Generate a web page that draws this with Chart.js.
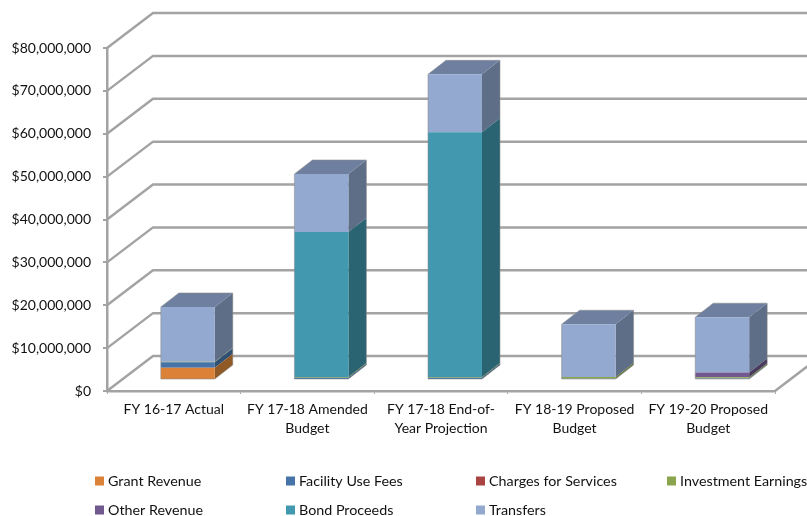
<!DOCTYPE html>
<html>
<head>
<meta charset="utf-8">
<style>
  html, body { margin: 0; padding: 0; background: #fff; }
  #wrap { position: relative; width: 807px; height: 516px; overflow: hidden; }
</style>
<script src="https://cdn.jsdelivr.net/npm/chart.js@4/dist/chart.umd.js"></script>
</head>
<body>
<div id="wrap"><canvas id="chart"></canvas></div>
<script>
// Budget categories along the horizontal axis
const categories = [
  'FY 16-17 Actual',
  ['FY 17-18 Amended', 'Budget'],
  ['FY 17-18 End-of-', 'Year Projection'],
  ['FY 18-19 Proposed', 'Budget'],
  ['FY 19-20 Proposed', 'Budget']
];

// Revenue sources, in dollars, bottom of the stack first
const grantRevenue       = [2870000, 0, 0, 0, 0];
const facilityUseFees    = [1250000, 500000, 500000, 300000, 350000];
const chargesForServices = [0, 0, 0, 0, 0];
const investmentEarnings = [150000, 200000, 200000, 400000, 300000];
const otherRevenue       = [0, 0, 0, 0, 1100000];
const bondProceeds       = [0, 33800000, 57100000, 0, 0];
const transfers          = [12760000, 13550000, 13500000, 12300000, 12900000];

const seriesNames = ['Grant Revenue', 'Facility Use Fees', 'Charges for Services',
  'Investment Earnings', 'Other Revenue', 'Bond Proceeds', 'Transfers'];
const seriesValues = [grantRevenue, facilityUseFees, chargesForServices,
  investmentEarnings, otherRevenue, bondProceeds, transfers];

// Front, side and top shades for each series
const frontColors = ['#DB8138', '#4674A8', '#A94442', '#8BA54E', '#71588F', '#4198AF', '#93A9CF'];
const sideColors  = ['#8F5A25', '#2F4F75', '#70302E', '#5F7235', '#4A3A5F', '#2A6472', '#5E6E86'];
const topColors   = ['#A8662C', '#3A5F8A', '#843936', '#6F853F', '#59467A', '#33788A', '#6E7F9F'];

const FONT = 'Lato, Carlito, sans-serif';
const GRID = '#a3a3a3';

// Oblique projection: wall depth and where the columns sit inside it
const WALL_DX = 46, WALL_DY = 35;
const BAR_SHIFT_X = 14, BAR_SHIFT_Y = 11;
const BAR_DX = 18, BAR_DY = 14;

const backdrop = {
  id: 'backdrop',
  beforeDatasetsDraw(chart) {
    const { ctx, chartArea: a, scales: { y } } = chart;
    ctx.save();
    ctx.strokeStyle = GRID;
    ctx.lineWidth = 2.5;
    ctx.lineJoin = 'round';
    y.ticks.forEach(t => {
      const py = y.getPixelForValue(t.value);
      ctx.beginPath();
      ctx.moveTo(a.left, py);
      ctx.lineTo(a.left + WALL_DX, py - WALL_DY);
      ctx.lineTo(chart.width + 10, py - WALL_DY);
      ctx.stroke();
    });
    // right edge of the floor
    ctx.beginPath();
    ctx.moveTo(a.right, a.bottom);
    ctx.lineTo(a.right + WALL_DX, a.bottom - WALL_DY);
    ctx.stroke();
    ctx.restore();
  }
};

const columns3d = {
  id: 'columns3d',
  beforeDatasetDraw(chart, args) {
    const { ctx } = chart;
    ctx.save();
    ctx.translate(BAR_SHIFT_X, -BAR_SHIFT_Y);
    const i = args.index;
    args.meta.data.forEach((bar, c) => {
      if (!seriesValues[i][c]) return;
      const right = bar.x + bar.width / 2;
      const left = bar.x - bar.width / 2;
      ctx.fillStyle = sideColors[i];
      ctx.beginPath();
      ctx.moveTo(right, bar.y);
      ctx.lineTo(right + BAR_DX, bar.y - BAR_DY);
      ctx.lineTo(right + BAR_DX, bar.base - BAR_DY);
      ctx.lineTo(right, bar.base);
      ctx.closePath();
      ctx.fill();
      // only the uppermost segment of a column shows its lid
      const isTop = seriesValues.slice(i + 1).every(s => !s[c]);
      if (isTop) {
        ctx.fillStyle = topColors[i];
        ctx.beginPath();
        ctx.moveTo(left, bar.y);
        ctx.lineTo(left + BAR_DX, bar.y - BAR_DY);
        ctx.lineTo(right + BAR_DX, bar.y - BAR_DY);
        ctx.lineTo(right, bar.y);
        ctx.closePath();
        ctx.fill();
      }
    });
  },
  afterDatasetDraw(chart) {
    chart.ctx.restore();
  },
  // faint outline around each whole column
  afterDatasetsDraw(chart) {
    const { ctx } = chart;
    ctx.save();
    ctx.translate(BAR_SHIFT_X, -BAR_SHIFT_Y);
    ctx.strokeStyle = 'rgba(140,140,140,0.55)';
    ctx.lineWidth = 1;
    ctx.lineJoin = 'round';
    categories.forEach((_, c) => {
      const bars = chart.data.datasets
        .map((d, i) => chart.getDatasetMeta(i).data[c])
        .filter((b, i) => seriesValues[i][c]);
      const top = Math.min(...bars.map(b => b.y));
      const base = Math.max(...bars.map(b => b.base));
      const left = bars[0].x - bars[0].width / 2;
      const right = bars[0].x + bars[0].width / 2;
      ctx.beginPath();
      ctx.moveTo(left, base);
      ctx.lineTo(left, top);
      ctx.lineTo(left + BAR_DX, top - BAR_DY);
      ctx.lineTo(right + BAR_DX, top - BAR_DY);
      ctx.lineTo(right + BAR_DX, base - BAR_DY);
      ctx.lineTo(right, base);
      ctx.closePath();
      ctx.stroke();
    });
    ctx.restore();
  }
};

// Legend laid out on a fixed grid of four columns
const gridLegend = {
  id: 'gridLegend',
  afterDraw(chart) {
    const { ctx } = chart;
    const cols = [95, 286, 476, 667];
    const rows = [481, 510];
    ctx.save();
    ctx.font = '14.3px ' + FONT;
    ctx.textBaseline = 'middle';
    ctx.textAlign = 'left';
    chart.data.datasets.forEach((ds, i) => {
      const x = cols[i % 4], y = rows[Math.floor(i / 4)];
      ctx.fillStyle = ds.backgroundColor;
      ctx.fillRect(x, y - 4.5, 9, 9);
      ctx.fillStyle = '#111';
      ctx.fillText(ds.label, x + 13, y);
    });
    ctx.restore();
  }
};

new Chart(document.getElementById('chart'), {
  type: 'bar',
  data: {
    labels: categories,
    datasets: seriesNames.map((name, i) => ({
      label: name,
      data: seriesValues[i],
      backgroundColor: frontColors[i],
      borderWidth: 0,
      clip: false
    }))
  },
  options: {
    responsive: true,
    maintainAspectRatio: false,
    animation: false,
    categoryPercentage: 0.404,
    barPercentage: 1,
    layout: { padding: { top: 48, right: 32, bottom: 65, left: 0 } },
    plugins: { legend: { display: false }, tooltip: { enabled: false } },
    scales: {
      x: {
        stacked: true,
        afterFit(s) { s.height = 60; },
        border: { color: GRID, width: 2.5 },
        grid: { drawOnChartArea: false, color: GRID, lineWidth: 1, tickLength: 3, offset: true },
        ticks: { color: '#111', font: { family: FONT, size: 14, lineHeight: 1.36 }, maxRotation: 0, autoSkip: false, padding: 6 }
      },
      y: {
        stacked: true,
        min: 0,
        max: 80000000,
        afterFit(s) { s.width = 107; },
        border: { color: GRID, width: 2.5 },
        grid: { drawOnChartArea: false, color: GRID, lineWidth: 2, tickLength: 4 },
        ticks: {
          stepSize: 10000000,
          color: '#111',
          padding: 12,
          font: { family: FONT, size: 14 },
          callback: v => '$' + Number(v).toLocaleString('en-US')
        }
      }
    }
  },
  plugins: [backdrop, columns3d, gridLegend]
});
</script>
</body>
</html>
